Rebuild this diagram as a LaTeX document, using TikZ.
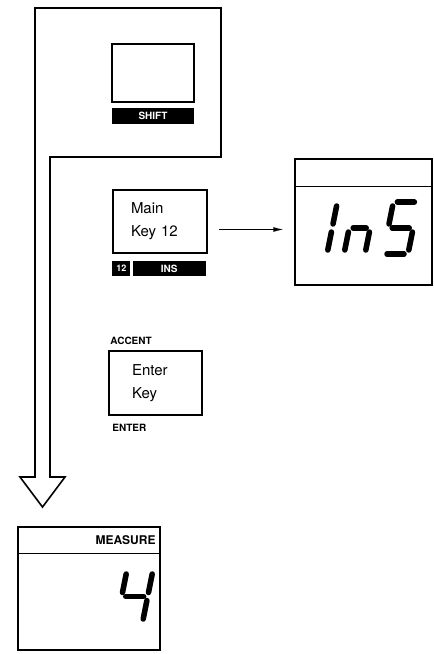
\documentclass[tikz,border=0pt]{standalone}
\usepackage{fontspec}
\setmainfont{TeX Gyre Heros}
\usetikzlibrary{arrows.meta,positioning,calc}

% one slanted seven-segment character: x, y (bottom left), width, height, segments
\newcommand{\lcdchar}[5]{%
  \begin{scope}[shift={(#1,#2)}, xslant=0.2]
    \coordinate (la1) at (4,-#4);         \coordinate (la2) at (#3-4,-#4);
    \coordinate (lb1) at (#3,-#4+4);      \coordinate (lb2) at (#3,-#4/2-4);
    \coordinate (lc1) at (#3,-#4/2+4);    \coordinate (lc2) at (#3,-4);
    \coordinate (ld1) at (4,0);           \coordinate (ld2) at (#3-4,0);
    \coordinate (le1) at (0,-#4/2+4);     \coordinate (le2) at (0,-4);
    \coordinate (lf1) at (0,-#4+4);       \coordinate (lf2) at (0,-#4/2-4);
    \coordinate (lg1) at (4,-#4/2);       \coordinate (lg2) at (#3-4,-#4/2);
    \foreach \s in {#5} \draw[lcdseg] (l\s1) -- (l\s2);
  \end{scope}}

\begin{document}
\begin{tikzpicture}[x=1pt, y=-1pt,
    keybox/.style={draw, line width=1.6pt, font=\fontsize{15}{23}\selectfont, align=left},
    legend/.style={fill=black, text=white, font=\fontsize{10}{10}\selectfont\bfseries, inner sep=0pt},
    keylabel/.style={font=\fontsize{10}{10}\selectfont\bfseries, inner sep=0pt},
    display/.style={draw, line width=1.5pt, inner sep=0pt},
    frame/.style={draw, line width=1.6pt, line join=miter},
    lcdseg/.style={line width=5.5pt, line cap=round},
    flowarrow/.style={-{Latex[length=11pt, width=5pt]}, line width=1.5pt}
]
\useasboundingbox (0,0) rectangle (434,654);

% big hollow arrow down the left
\draw[frame] (35,477) -- (35,8) -- (221,8) -- (221,157) -- (50,157) -- (50,477)
  -- (65,477) -- (42.5,507) -- (20,477) -- cycle;

% Shift key
\node[keybox, minimum width=82pt, minimum height=58pt] (shiftkey) at (153,73) {};
\node[legend, minimum width=82pt, minimum height=16pt, below=5pt of shiftkey] (shiftbar) {SHIFT};

% Main key 12
\node[keybox, minimum width=94pt, minimum height=63pt, inner xsep=18pt, text width=58pt] (mainkey) at (160,221.5) {Main\\Key 12};
\node[legend, minimum width=18pt, minimum height=15pt, font=\fontsize{9}{9}\selectfont\bfseries,
      below=7pt of mainkey.south west, anchor=north west] (num12) {12};
\node[legend, minimum width=73pt, minimum height=15pt, right=2pt of num12] (insbar) {INS};

% Enter key
\node[keybox, minimum width=93pt, minimum height=64pt, inner xsep=23pt, text width=47pt] (enterkey) at (155.5,383) {Enter\\Key};
\node[keylabel, above=5pt of enterkey.north west, anchor=south west, xshift=2pt] (accent) {ACCENT};
\node[keylabel, below=8pt of enterkey.south west, anchor=north west, xshift=4pt] (enter) {ENTER};

% display after key 12
\node[display, minimum width=137pt, minimum height=126pt] (insdisp) at (363.5,222) {};
\draw[line width=1.5pt] ([yshift=-28pt]insdisp.north west) -- ([yshift=-28pt]insdisp.north east);
\lcdchar{327}{254}{22}{52}{e,f}
\lcdchar{344}{254}{21}{52}{e,c,g}
\lcdchar{383}{254}{25}{52}{a,f,g,c,d}

\draw[flowarrow, shorten <=11pt, shorten >=10pt] ([yshift=-8pt]mainkey.east) -- ([yshift=-8pt]mainkey.east -| insdisp.west);

% measure display
\node[display, minimum width=142pt, minimum height=123pt] (measdisp) at (89,588.5) {};
\draw[line width=1.5pt] ([yshift=-27pt]measdisp.north west) -- ([yshift=-27pt]measdisp.north east);
\node[keylabel, font=\fontsize{12}{12}\selectfont\bfseries, anchor=east] (measure) at ([xshift=-5pt, yshift=-13.5pt]measdisp.north east) {MEASURE};
\lcdchar{116.4}{623}{26}{53}{f,b,g,c}

\end{tikzpicture}
\end{document}
